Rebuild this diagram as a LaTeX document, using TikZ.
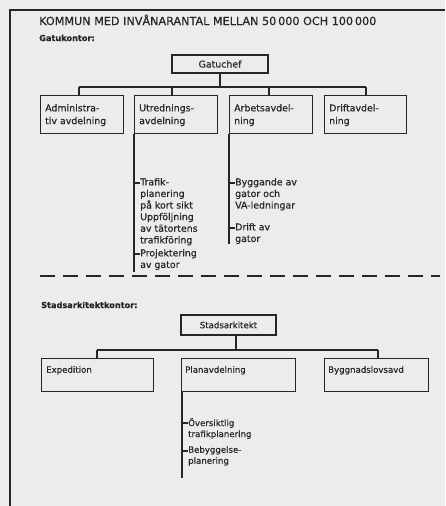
\documentclass[tikz,border=0pt]{standalone}
\usepackage{fontspec}
\setmainfont{DejaVu Sans}[FakeBold=0.5]
\definecolor{paper}{HTML}{ECECEC}
\definecolor{ink}{HTML}{262626}
\begin{document}
\begin{tikzpicture}[x=1pt,y=-1pt,
  every node/.style={text=ink, inner sep=0pt},
  frameline/.style={draw=ink, line width=1.8pt},
  wire/.style={draw=ink, line width=1.1pt},
  boxframe/.style={draw=ink, line width=1.2pt, fill=none, rectangle, anchor=north west},
  bigfont/.style={font=\fontsize{9.4}{12.8}\selectfont},
  itemfont/.style={font=\fontsize{9.4}{11.6}\selectfont},
  smallfont/.style={font=\fontsize{8.6}{11}\selectfont},
  boxtext/.style={anchor=north west, align=left},
  itemtext/.style={anchor=north west, align=left},
  headtext/.style={anchor=base west, font=\fontsize{8.2}{10}\selectfont\bfseries},
  divider/.style={draw=ink, line width=1.4pt, dash pattern=on 15pt off 8pt}]

% page background and outer frame
\fill[paper] (0,0) rectangle (445,506);
\useasboundingbox (0,0) rectangle (445,506);
\coordinate (frameBL) at (10,506);
\coordinate (frameTL) at (10,10);
\coordinate (frameTR) at (445,10);
\draw[frameline] (frameBL) -- (frameTL) -- (frameTR);

% headings
\node[anchor=base west, font=\fontsize{11.2}{13}\selectfont] (title) at (39,25)
  {KOMMUN MED INVÅNARANTAL MELLAN 50\,000 OCH 100\,000};
\node[headtext] (gatuHead) at (39,41) {Gatukontor:};

% ---------------- Gatukontor ----------------
\node[draw=ink, line width=1.2pt, minimum width=96pt, minimum height=18pt, bigfont]
  (gatuchef) at (220,64) {Gatuchef};

\node[boxframe, minimum width=83pt, minimum height=38pt] (adm) at (40,95) {};
\node[boxframe, minimum width=83pt, minimum height=38pt] (utr) at (134,95) {};
\node[boxframe, minimum width=83pt, minimum height=38pt] (arb) at (229,95) {};
\node[boxframe, minimum width=82pt, minimum height=38pt] (dri) at (324,95) {};

\node[boxtext, bigfont] (admT) at ([shift={(5,9)}]adm.north west) {Administra-\\tiv avdelning};
\node[boxtext, bigfont] (utrT) at ([shift={(5,9)}]utr.north west) {Utrednings-\\avdelning};
\node[boxtext, bigfont] (arbT) at ([shift={(5,9)}]arb.north west) {Arbetsavdel-\\ning};
\node[boxtext, bigfont] (driT) at ([shift={(5,9)}]dri.north west) {Driftavdel-\\ning};

% bus from Gatuchef to the departments
\coordinate (gatuBus) at (0,87);
\coordinate (busL) at (79,87);
\coordinate (busR) at (366,87);
\draw[wire] (gatuchef.south) -- (gatuchef.south |- gatuBus);
\draw[wire] (busL) -- (busR);
\draw[wire] (busL) -- (busL |- adm.north);
\draw[wire] (gatuBus -| 172,0) -- (utr.north -| 172,0);
\draw[wire] (gatuBus -| 269,0) -- (arb.north -| 269,0);
\draw[wire] (busR) -- (busR |- dri.north);

% tasks of Utredningsavdelning
\coordinate (utrEnd) at (134,272);
\draw[wire] (utr.south west) -- (utrEnd);
\coordinate (k1) at (134,183);
\coordinate (k2) at (134,254);
\node[itemtext, itemfont] (u1) at ([shift={(6,-5)}]k1)
  {Trafik-\\planering\\på kort sikt\\Uppföljning\\av tätortens\\trafikföring};
\node[itemtext, itemfont] (u2) at ([shift={(6,-5)}]k2)
  {Projektering\\av gator};
\draw[wire] (k1) -- (k1 -| u1.west);
\draw[wire] (k2) -- (k2 -| u2.west);

% tasks of Arbetsavdelning
\coordinate (arbEnd) at (229,244);
\draw[wire] (arb.south west) -- (arbEnd);
\coordinate (k3) at (229,183);
\coordinate (k4) at (229,228);
\node[itemtext, itemfont] (a1) at ([shift={(6,-5)}]k3)
  {Byggande av\\gator och\\VA-ledningar};
\node[itemtext, itemfont] (a2) at ([shift={(6,-5)}]k4)
  {Drift av\\gator};
\draw[wire] (k3) -- (k3 -| a1.west);
\draw[wire] (k4) -- (k4 -| a2.west);

% divider between the two offices
\coordinate (divL) at (40,276);
\coordinate (divR) at (440,276);
\draw[divider] (divL) -- (divR);

% ---------------- Stadsarkitektkontor ----------------
\node[headtext] (stadsHead) at (41,308) {Stadsarkitektkontor:};

\node[draw=ink, line width=1.2pt, minimum width=95pt, minimum height=20pt, smallfont]
  (stark) at (228.5,325) {Stadsarkitekt};

\node[boxframe, minimum width=112pt, minimum height=33pt] (exp) at (41,358) {};
\node[boxframe, minimum width=114pt, minimum height=33pt] (pla) at (181,358) {};
\node[boxframe, minimum width=104pt, minimum height=33pt] (byg) at (324,358) {};

\node[boxtext, smallfont] (expT) at ([shift={(5,8)}]exp.north west) {Expedition};
\node[boxtext, smallfont] (plaT) at ([shift={(4,8)}]pla.north west) {Planavdelning};
\node[boxtext, smallfont] (bygT) at ([shift={(4,8)}]byg.north west) {Byggnadslovsavd};

\coordinate (stadsBus) at (0,350);
\coordinate (sbusL) at (97,350);
\coordinate (sbusR) at (378,350);
\draw[wire] (stark.south -| 236,0) -- (stadsBus -| 236,0);
\draw[wire] (sbusL) -- (sbusR);
\draw[wire] (sbusL) -- (sbusL |- exp.north);
\draw[wire] (sbusR) -- (sbusR |- byg.north);

% tasks of Planavdelning
\coordinate (plaTop) at (182,391);
\coordinate (plaEnd) at (182,478);
\draw[wire] (plaTop) -- (plaEnd);
\coordinate (k5) at (182,423);
\coordinate (k6) at (182,451);
\node[itemtext, smallfont] (p1) at ([shift={(6,-5)}]k5) {Översiktlig\\trafikplanering};
\node[itemtext, smallfont] (p2) at ([shift={(6,-5)}]k6) {Bebyggelse-\\planering};
\draw[wire] (k5) -- (k5 -| p1.west);
\draw[wire] (k6) -- (k6 -| p2.west);
\end{tikzpicture}
\end{document}
